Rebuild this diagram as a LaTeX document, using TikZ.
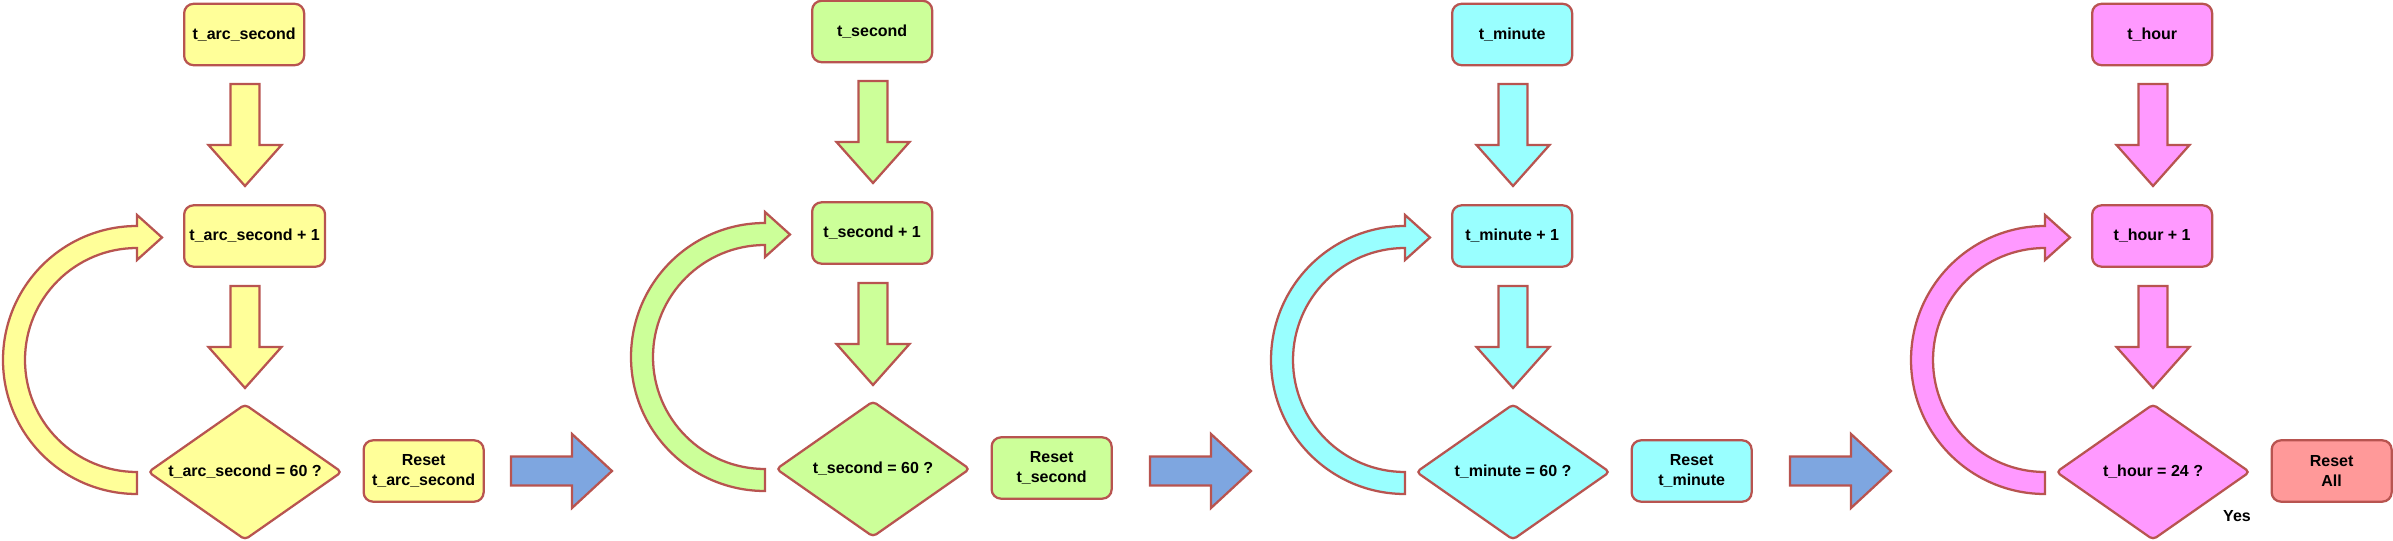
\documentclass[tikz,border=0pt]{standalone}
\usepackage{fontspec}
\setmainfont{Liberation Sans}
\usetikzlibrary{shapes.geometric}
\definecolor{edge}{HTML}{B85450}
\definecolor{cyel}{HTML}{FFFF99}
\definecolor{cgrn}{HTML}{CCFF99}
\definecolor{ccyn}{HTML}{99FFFF}
\definecolor{cpnk}{HTML}{FF99FF}
\definecolor{cred}{HTML}{FF9999}
\definecolor{cblu}{HTML}{7EA6E0}

% #1 diamond centre x, #2 fill, #3 top text, #4 increment text, #5 test text, #6 reset text, #7 name prefix, #8 reset fill
\newcommand\clockgroup[8]{%
  \node[box,fill=#2,anchor=west] (#7top) at (#1-62,34.5) {#3};
  \draw[blk,fill=#2] (#1-14.5,84) -- (#1+14.5,84) -- (#1+14.5,145) -- (#1+36.5,145)
     -- (#1,186) -- (#1-36.5,145) -- (#1-14.5,145) -- cycle;
  \node[box,fill=#2,anchor=west] (#7inc) at (#1-62,236) {#4};
  \draw[blk,fill=#2] (#1-14.5,286) -- (#1+14.5,286) -- (#1+14.5,347) -- (#1+36.5,347)
     -- (#1,388) -- (#1-36.5,347) -- (#1-14.5,347) -- cycle;
  \node[dia,fill=#2] (#7test) at (#1,472) {#5};
  \draw[blk,fill=#2] (#1-108,494) -- (#1-108,472) arc[start angle=90,end angle=270,radius=112]
     -- (#1-108,260) -- (#1-83,237.5) -- (#1-108,215) -- (#1-108,226)
     arc[start angle=270,end angle=90,radius=134] -- cycle;
  \node[box,fill=#8,anchor=west] (#7reset) at (#1+117.5,471) {#6};
}
% blue block arrow, #1 start x
\newcommand\bluearrow[1]{%
  \draw[blk,fill=cblu] (#1,456.5) -- (#1+61,456.5) -- (#1+61,434) -- (#1+101,471)
     -- (#1+61,508) -- (#1+61,485.5) -- (#1,485.5) -- cycle;
}

\begin{document}
\begin{tikzpicture}[x=0.75pt,y=-0.75pt,
  every node/.style={font=\fontsize{12}{14.4}\selectfont\bfseries},
  box/.style={draw=edge, line width=1.7pt, rounded corners=7pt, minimum width=90pt,
    minimum height=46pt, align=center, inner xsep=4pt, inner ysep=0pt},
  dia/.style={draw=edge, line width=1.7pt, diamond, aspect=1.43, rounded corners=3pt,
    minimum width=145.5pt, minimum height=102pt, inner sep=0pt},
  blk/.style={draw=edge, line width=1.7pt, line join=miter}]
\useasboundingbox (0,0) rectangle (2393,541);

\clockgroup{245}{cyel}{t\_arc\_second}{t\_arc\_second + 1}{t\_arc\_second = 60 ?}{Reset\\t\_arc\_second}{a}{cyel}
\begin{scope}[yshift=2.25pt]
\clockgroup{873}{cgrn}{t\_second}{t\_second + 1}{t\_second = 60 ?}{Reset\\t\_second}{s}{cgrn}
\end{scope}
\clockgroup{1513}{ccyn}{t\_minute}{t\_minute + 1}{t\_minute = 60 ?}{Reset\\t\_minute}{m}{ccyn}
\clockgroup{2153}{cpnk}{t\_hour}{t\_hour + 1}{t\_hour = 24 ?}{Reset\\All}{h}{cred}

\bluearrow{511}
\bluearrow{1150}
\bluearrow{1790}

\node (yes) at (2237,516) {Yes};
\end{tikzpicture}
\end{document}
